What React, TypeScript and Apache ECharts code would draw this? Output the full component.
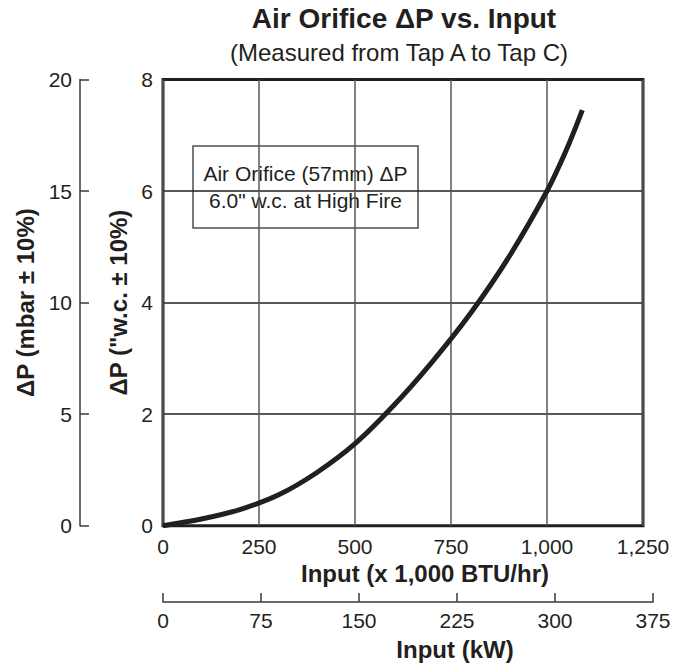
import React, { useEffect, useRef } from "react";
import * as echarts from "echarts";

// Input (x 1,000 BTU/hr) and measured ΔP ("w.c.)
const inputBtu = [0, 100, 200, 300, 400, 500, 600, 700, 800, 900, 1000, 1050, 1092];
const deltaPwc = [0, 0.12, 0.29, 0.55, 0.95, 1.47, 2.15, 2.93, 3.8, 4.81, 6.0, 6.73, 7.45];

const btuTicks = [0, 250, 500, 750, 1000, 1250];
const kwTicks = [0, 75, 150, 225, 300, 375];
const wcTicks = [0, 2, 4, 6, 8];
const mbarTicks = [0, 5, 10, 15, 20];

const titleText = "Air Orifice \u0394P vs. Input";
const subtitleText = "(Measured from Tap A to Tap C)";
const noteLines = ["Air Orifice (57mm) \u0394P", '6.0" w.c. at High Fire'];

const FONT = "'Liberation Sans', Arial, Helvetica, sans-serif";
const INK = "#231f20";

const fmt = (v: number) => String(v).replace(/\B(?=(\d{3})+(?!\d))/g, ",");

export default function App() {
  const ref = useRef<HTMLDivElement>(null);
  useEffect(() => {
    if (!ref.current) return;
    const chart = echarts.init(ref.current, null, { renderer: "svg" });
    const tickLabel = { color: INK, fontSize: 21, fontFamily: FONT };
    const nameStyle = { color: INK, fontSize: 24, fontWeight: "bold" as const, fontFamily: FONT };
    chart.setOption({
      animation: false,
      backgroundColor: "#ffffff",
      textStyle: { fontFamily: FONT, color: INK },
      title: [
        {
          text: titleText,
          left: 404,
          top: 4,
          padding: 0,
          textAlign: "center",
          textStyle: { fontSize: 28, fontWeight: "bold", color: INK, fontFamily: FONT },
        },
        {
          text: subtitleText,
          left: 399,
          top: 40,
          padding: 0,
          textAlign: "center",
          textStyle: { fontSize: 24, fontWeight: "normal", color: INK, fontFamily: FONT },
        },
      ],
      grid: [
        {
          left: 163,
          right: 46,
          top: 79.5,
          bottom: 140.3,
          show: true,
          borderColor: INK,
          borderWidth: 3,
          backgroundColor: "transparent",
        },
        { left: 163, right: 36, top: 79.5, bottom: 140.3, show: false },
      ],
      xAxis: [
        {
          type: "value",
          gridIndex: 0,
          min: btuTicks[0],
          max: btuTicks[btuTicks.length - 1],
          interval: btuTicks[1] - btuTicks[0],
          axisLine: { show: false },
          axisTick: { show: false },
          axisLabel: { ...tickLabel, margin: 10, formatter: (v: number) => fmt(v) },
          splitLine: { show: true, lineStyle: { color: "#5a5a5a", width: 1.5 } },
          name: "Input (x 1,000 BTU/hr)",
          nameLocation: "middle",
          nameGap: 34,
          nameTextStyle: { ...nameStyle, padding: [0, 0, 0, 44] },
        },
        {
          type: "value",
          gridIndex: 1,
          position: "bottom",
          offset: 78,
          min: kwTicks[0],
          max: kwTicks[kwTicks.length - 1],
          interval: kwTicks[1] - kwTicks[0],
          axisLine: { show: true, onZero: false, lineStyle: { color: "#3a3a3a", width: 1.5 } },
          axisTick: { show: true, inside: true, length: 9, lineStyle: { color: "#3a3a3a", width: 1.5 } },
          axisLabel: { ...tickLabel, margin: 8 },
          splitLine: { show: false },
          name: "Input (kW)",
          nameLocation: "middle",
          nameGap: 35,
          nameTextStyle: { ...nameStyle, padding: [0, 0, 0, 94] },
        },
      ],
      yAxis: [
        {
          type: "value",
          gridIndex: 0,
          position: "left",
          min: wcTicks[0],
          max: wcTicks[wcTicks.length - 1],
          interval: wcTicks[1] - wcTicks[0],
          axisLine: { show: false, onZero: false },
          axisTick: { show: false },
          axisLabel: { ...tickLabel, margin: 10 },
          splitLine: { show: true, lineStyle: { color: INK, width: 1.5 } },
          name: '\u0394P ("w.c. \u00b1 10%)',
          nameLocation: "middle",
          nameGap: 28,
          nameTextStyle: nameStyle,
        },
        {
          type: "value",
          gridIndex: 0,
          position: "left",
          offset: 83,
          min: mbarTicks[0],
          max: mbarTicks[mbarTicks.length - 1],
          interval: mbarTicks[1] - mbarTicks[0],
          axisLine: { show: true, onZero: false, lineStyle: { color: "#3a3a3a", width: 1.5 } },
          axisTick: { show: true, inside: true, length: 9, lineStyle: { color: "#3a3a3a", width: 1.5 } },
          axisLabel: { ...tickLabel, margin: 8 },
          splitLine: { show: false },
          name: "\u0394P (mbar \u00b1 10%)",
          nameLocation: "middle",
          nameGap: 40,
          nameTextStyle: nameStyle,
        },
        { type: "value", gridIndex: 1, show: false, min: 0, max: 8 },
      ],
      graphic: [
        {
          type: "group",
          z: 50,
          children: [
            {
              type: "rect",
              shape: { x: 193, y: 146, width: 225, height: 82 },
              style: { fill: "#ffffff", stroke: "#4d4d4d", lineWidth: 1.5 },
            },
            {
              type: "text",
              x: 305.5,
              y: 187,
              style: {
                text: noteLines.join("\n"),
                fill: INK,
                fontSize: 21,
                lineHeight: 27,
                fontFamily: FONT,
                align: "center",
                verticalAlign: "middle",
              },
            },
          ],
        },
      ],
      series: [
        {
          type: "line",
          xAxisIndex: 0,
          yAxisIndex: 0,
          data: inputBtu.map((x, i) => [x, deltaPwc[i]]),
          smooth: 0.35,
          showSymbol: false,
          symbol: "none",
          lineStyle: { color: INK, width: 5 },
          z: 20,
        },
      ],
    });
    return () => chart.dispose();
  }, []);
  return (
    <div
      ref={ref}
      style={{ position: "fixed", left: 0, top: 0, width: 689, height: 666, background: "#fff" }}
    />
  );
}
